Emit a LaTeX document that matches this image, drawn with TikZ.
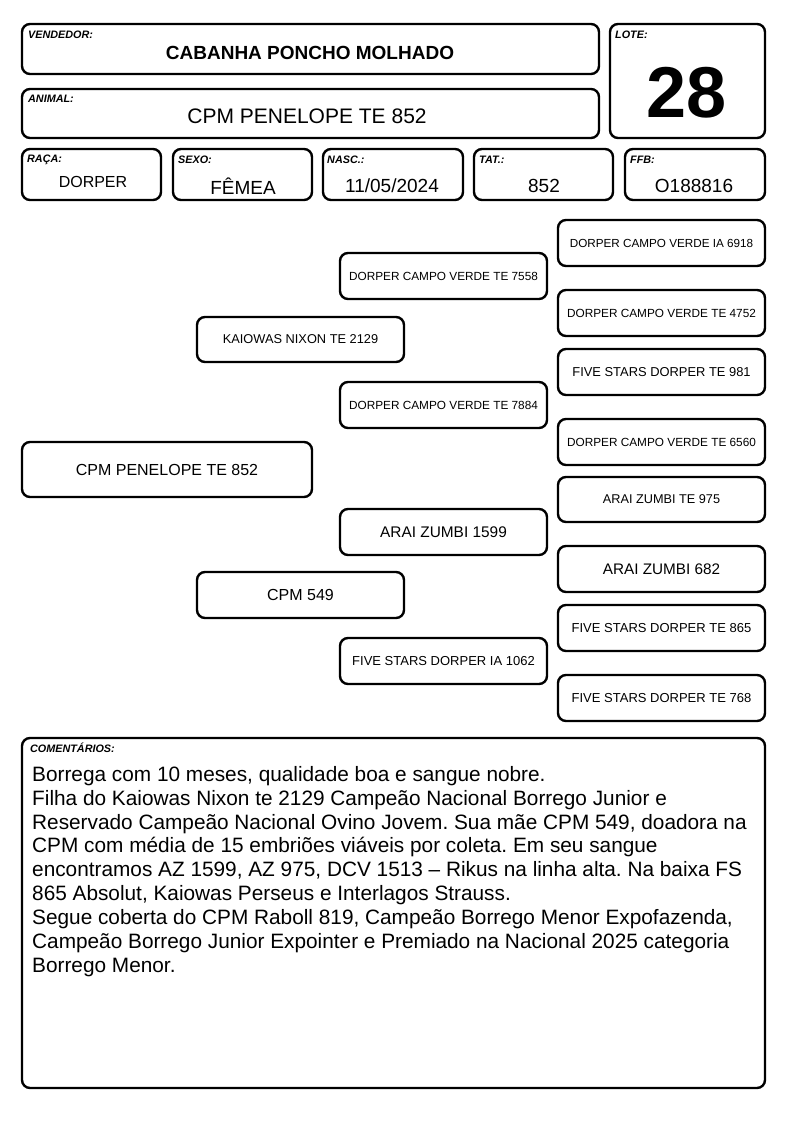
\documentclass[tikz,border=0pt]{standalone}
\usepackage{fontspec}
\setmainfont{Liberation Sans}
\frenchspacing
\newcommand{\fs}[1]{\fontsize{#1pt}{#1pt}\selectfont}
\tikzset{
  box/.style={draw=black, line width=2.4pt, rounded corners=8pt, inner sep=0pt, fill=white},
  lbl/.style={anchor=base west, inner sep=0pt, font=\fs{10.8}\bfseries\itshape},
  val/.style={inner sep=0pt},
}
\newcommand{\mybox}[7]{%
  \node[box, minimum width={#4pt-#2pt}, minimum height={#5pt-#3pt}, font=#6]
    (#1) at ({(#2+#4)/2},{(#3+#5)/2}) {#7};}
\begin{document}
\begin{tikzpicture}[x=1pt,y=-1pt]
\useasboundingbox (0,0) rectangle (794,1123);
% header
\mybox{vend}{22}{24}{599}{74}{\fs{19}\bfseries}{}
\node[lbl] (vendl) at (28,39) {VENDEDOR:};
\node[val, font=\fs{19}\bfseries] (vendv) at (310,53) {CABANHA PONCHO MOLHADO};
\mybox{anim}{22}{89}{599}{138}{\fs{21}}{}
\node[lbl] (animl) at (28,103) {ANIMAL:};
\node[val, font=\fs{21}] (animv) at (307,116) {CPM PENELOPE TE 852};
\mybox{lote}{610}{24}{765}{138}{\fs{72}}{}
\node[lbl] (lotel) at (615,39) {LOTE:};
\node[val, font=\fs{72}\bfseries] (lotev) at (687,93) {28};
% row
\mybox{raca}{22}{149}{161}{200}{}{}
\node[lbl] (racal) at (27,163) {RAÇA:};
\node[val, font=\fs{16}] (racav) at (93,182) {DORPER};
\mybox{sexo}{173}{149}{312}{200}{}{}
\node[lbl] (sexol) at (178,164) {SEXO:};
\node[val, font=\fs{19}] (sexov) at (243,186) {FÊMEA};
\mybox{nasc}{323}{149}{463}{200}{}{}
\node[lbl] (nascl) at (327,164) {NASC.:};
\node[val, font=\fs{19}] (nascv) at (392,186) {11/05/2024};
\mybox{tat}{474}{149}{613}{200}{}{}
\node[lbl] (tatl) at (479,164) {TAT.:};
\node[val, font=\fs{19}] (tatv) at (544,186) {852};
\mybox{ffb}{625}{149}{765}{200}{}{}
\node[lbl] (ffbl) at (630,164) {FFB:};
\node[val, font=\fs{19}] (ffbv) at (694,186) {O188816};
% pedigree
\mybox{p0}{22}{442}{312}{497}{\fs{16}}{CPM PENELOPE TE 852}
\mybox{p1}{197}{317}{404}{362}{\fs{12.8}}{KAIOWAS NIXON TE 2129}
\mybox{p2}{197}{572}{404}{618}{\fs{16}}{CPM 549}
\mybox{p11}{340}{253}{547}{299}{\fs{11.8}}{DORPER CAMPO VERDE TE 7558}
\mybox{p12}{340}{382}{547}{428}{\fs{11.8}}{DORPER CAMPO VERDE TE 7884}
\mybox{p21}{340}{509}{547}{555}{\fs{15.4}}{ARAI ZUMBI 1599}
\mybox{p22}{340}{638}{547}{684}{\fs{13}}{FIVE STARS DORPER IA 1062}
\mybox{p111}{558}{220}{765}{266}{\fs{11.7}}{DORPER CAMPO VERDE IA 6918}
\mybox{p112}{558}{290}{765}{336}{\fs{11.8}}{DORPER CAMPO VERDE TE 4752}
\mybox{p121}{558}{349}{765}{395}{\fs{12.9}}{FIVE STARS DORPER TE 981}
\mybox{p122}{558}{419}{765}{465}{\fs{11.8}}{DORPER CAMPO VERDE TE 6560}
\mybox{p211}{558}{477}{765}{522}{\fs{12.7}}{ARAI ZUMBI TE 975}
\mybox{p212}{558}{546}{765}{592}{\fs{15.3}}{ARAI ZUMBI 682}
\mybox{p221}{558}{605}{765}{651}{\fs{13}}{FIVE STARS DORPER TE 865}
\mybox{p222}{558}{675}{765}{721}{\fs{13}}{FIVE STARS DORPER TE 768}
% comments
\mybox{com}{22}{738}{765}{1088}{}{}
\node[lbl] (coml) at (30,752) {COMENTÁRIOS:};
\node[anchor=north west, inner sep=0pt, align=left, font=\fontsize{20.8pt}{23.9pt}\selectfont] (comv) at (32,766) {%
Borrega com 10 meses, qualidade boa e sangue nobre.\\
Filha do Kaiowas Nixon te 2129 Campeão Nacional Borrego Junior e\\
Reservado Campeão Nacional Ovino Jovem. Sua mãe CPM 549, doadora na\\
CPM com média de 15 embriões viáveis por coleta. Em seu sangue\\
encontramos AZ 1599, AZ 975, DCV 1513 – Rikus na linha alta. Na baixa FS\\
865 Absolut, Kaiowas Perseus e Interlagos Strauss.\\
Segue coberta do CPM Raboll 819, Campeão Borrego Menor Expofazenda,\\
Campeão Borrego Junior Expointer e Premiado na Nacional 2025 categoria\\
Borrego Menor.};
\end{tikzpicture}
\end{document}
